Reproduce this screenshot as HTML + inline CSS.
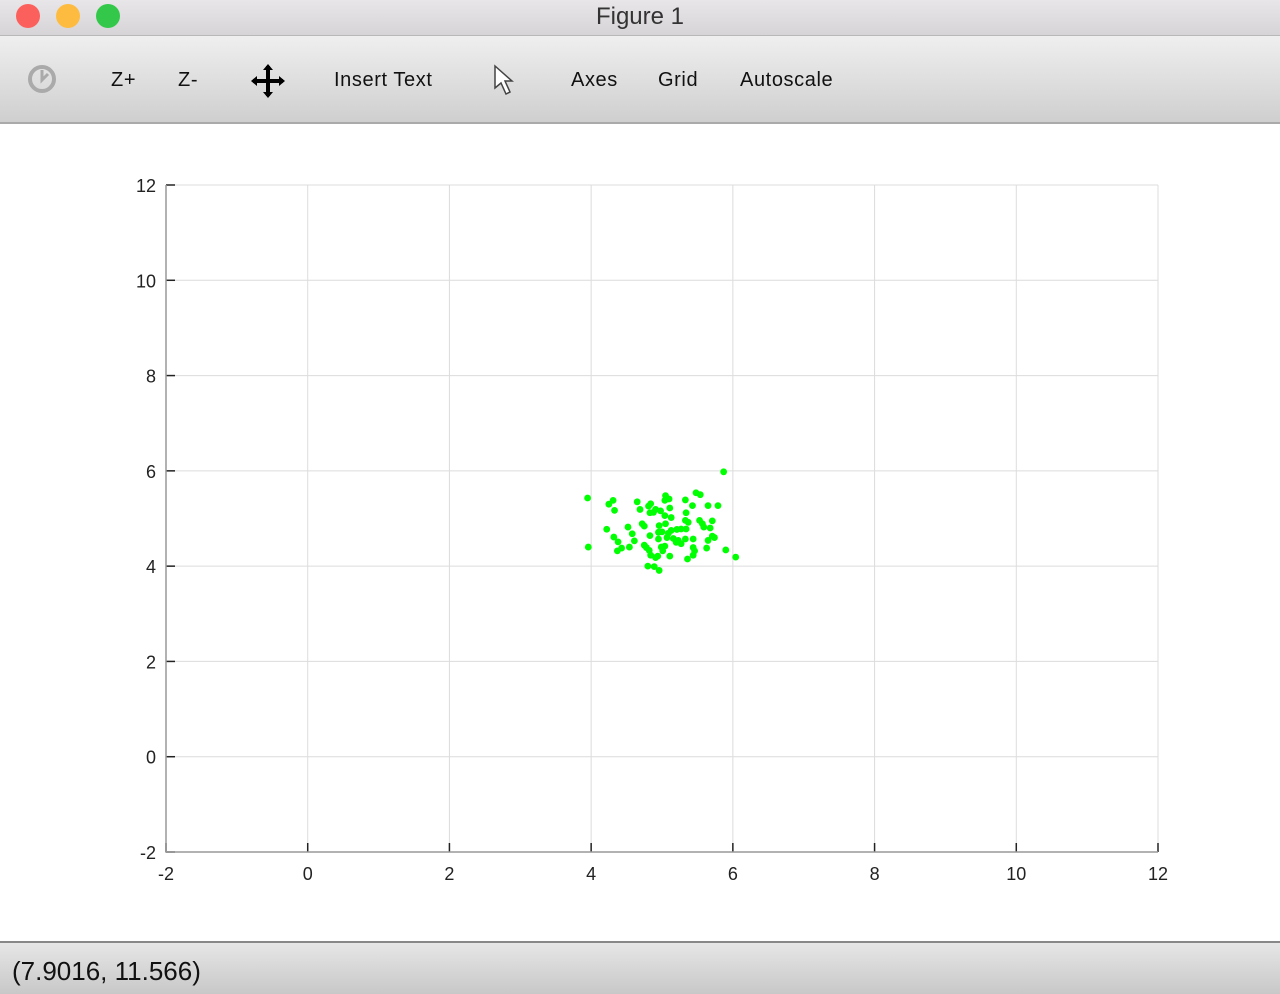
<!DOCTYPE html>
<html><head><meta charset="utf-8"><style>
body{margin:0;width:1280px;height:992px;overflow:hidden;background:#fff;font-family:"Liberation Sans",sans-serif;position:relative}
#titlebar{position:absolute;left:0;top:0;width:1280px;height:35px;background:linear-gradient(#e8e6e8,#d6d4d6);border-bottom:1px solid #b8b8b8}
#titlebar .t{position:absolute;left:0;right:0;top:3px;text-align:center;font-size:24px;color:#333}
.dot{position:absolute;top:4px;width:24px;height:24px;border-radius:50%}
#toolbar{position:absolute;left:0;top:36px;width:1280px;height:86px;background:linear-gradient(#efefef,#cfcfcf);border-bottom:2px solid #aaa}
.tb{position:absolute;top:33px;font-size:20px;color:#111;letter-spacing:0.6px}
#status{position:absolute;left:0;top:941px;width:1280px;height:51px;background:linear-gradient(#e6e6e6,#c8c8c8);border-top:2px solid #888}
#status span{position:absolute;left:12px;top:13px;font-size:26px;color:#111}
</style></head><body>
<div id="titlebar">
<div class="dot" style="left:16px;background:#fc605c"></div>
<div class="dot" style="left:56px;background:#fdbc40"></div>
<div class="dot" style="left:96px;background:#34c84a"></div>
<div class="t">Figure 1</div>
</div>
<div id="toolbar">
<svg style="position:absolute;left:26px;top:26px" width="34" height="34"><circle cx="16" cy="17" r="12" fill="none" stroke="#aaa" stroke-width="4"/><path d="M16 8 L16 18 L22 12" fill="none" stroke="#aaa" stroke-width="3"/></svg>
<span class="tb" style="left:111px">Z+</span>
<span class="tb" style="left:178px">Z-</span>
<svg style="position:absolute;left:251px;top:28px" width="34" height="34"><path d="M17 2 L17 32 M2 17 L32 17" stroke="#000" stroke-width="4"/><path d="M17 0 L12 6 L22 6Z M17 34 L12 28 L22 28Z M0 17 L6 12 L6 22Z M34 17 L28 12 L28 22Z" fill="#000"/></svg>
<span class="tb" style="left:334px">Insert Text</span>
<svg style="position:absolute;left:492px;top:28px" width="24" height="34"><path d="M3 2 L3 24 L9 19 L14 30 L18 28 L13 17 L20 17 Z" fill="#fff" stroke="#444" stroke-width="1.5"/></svg>
<span class="tb" style="left:571px">Axes</span>
<span class="tb" style="left:658px">Grid</span>
<span class="tb" style="left:740px">Autoscale</span>
</div>
<svg id="chart" style="position:absolute;left:0;top:0" width="1280" height="992"></svg>
<div id="status"><span>(7.9016, 11.566)</span></div>
<script>
const xTicks=[-2,0,2,4,6,8,10,12];
const yTicks=[-2,0,2,4,6,8,10,12];
const xs=[5.87,3.95,3.96,4.31,4.25,4.33,4.65,4.69,4.84,4.81,4.83,4.88,4.91,4.98,5.05,5.04,5.10,5.11,5.04,5.13,5.33,5.43,5.34,5.48,5.54,5.65,5.79,4.22,4.52,4.72,4.75,4.96,5.05,5.33,5.37,5.53,5.57,5.59,5.71,5.68,4.58,4.32,4.38,4.61,4.83,4.95,5.00,5.09,5.13,5.21,5.27,5.34,4.95,5.07,5.16,5.23,5.20,5.27,5.33,5.44,5.65,5.71,5.74,4.54,4.43,4.37,4.75,4.78,4.82,4.99,5.04,5.01,5.44,5.46,5.63,5.90,6.04,4.84,4.91,4.94,5.11,5.44,5.36,4.80,4.89,4.96];
const ys=[5.98,5.43,4.40,5.38,5.30,5.17,5.35,5.19,5.31,5.26,5.12,5.13,5.19,5.16,5.48,5.38,5.41,5.22,5.06,5.02,5.39,5.27,5.12,5.54,5.50,5.27,5.27,4.775,4.82,4.89,4.84,4.85,4.89,4.96,4.92,4.96,4.89,4.82,4.95,4.80,4.68,4.61,4.51,4.53,4.64,4.71,4.72,4.69,4.75,4.77,4.78,4.78,4.57,4.60,4.58,4.54,4.50,4.47,4.57,4.57,4.54,4.63,4.60,4.40,4.38,4.32,4.44,4.39,4.33,4.40,4.42,4.32,4.39,4.32,4.38,4.34,4.19,4.23,4.18,4.21,4.21,4.23,4.15,4.00,3.99,3.91];
const L=166,R=1158,T=185,B=852,xmin=-2,xmax=12,ymin=-2,ymax=12;
const sx=v=>L+(v-xmin)/(xmax-xmin)*(R-L);
const sy=v=>B-(v-ymin)/(ymax-ymin)*(B-T);
const svg=document.getElementById('chart');
const NS='http://www.w3.org/2000/svg';
function mk(tag,a){const e=document.createElementNS(NS,tag);for(const k in a)e.setAttribute(k,a[k]);svg.appendChild(e);return e;}
xTicks.forEach(t=>{
 const g=mk('line',{x1:sx(t),x2:sx(t),y1:T,y2:B,stroke:'#dcdcdc','stroke-width':1});
 
 
 const k=mk('line',{x1:sx(t),x2:sx(t),y1:B,y2:B-9,stroke:'#222','stroke-width':1.5});
 
 
 const l=mk('text',{x:sx(t),y:B+28,'text-anchor':'middle','font-size':18,fill:'#222','font-family':'Liberation Sans, sans-serif'});
 l.textContent=t;
 
 
});
yTicks.forEach(t=>{
 const g=mk('line',{x1:L,x2:R,y1:sy(t),y2:sy(t),stroke:'#dcdcdc','stroke-width':1});
 
 
 const k=mk('line',{x1:L,x2:L+9,y1:sy(t),y2:sy(t),stroke:'#222','stroke-width':1.5});
 
 
 const l=mk('text',{x:L-10,y:sy(t)+7,'text-anchor':'end','font-size':18,fill:'#222','font-family':'Liberation Sans, sans-serif'});
 l.textContent=t;
 
 
});
const ax=mk('path',{d:`M${L} ${T} L${L} ${B} L${R} ${B}`,fill:'none',stroke:'#999','stroke-width':1.5});


xs.forEach((x,i)=>{
 const c=mk('circle',{cx:sx(x),cy:sy(ys[i]),r:3.4,fill:'#00ff00'});
 
 
});
</script>
</body></html>
